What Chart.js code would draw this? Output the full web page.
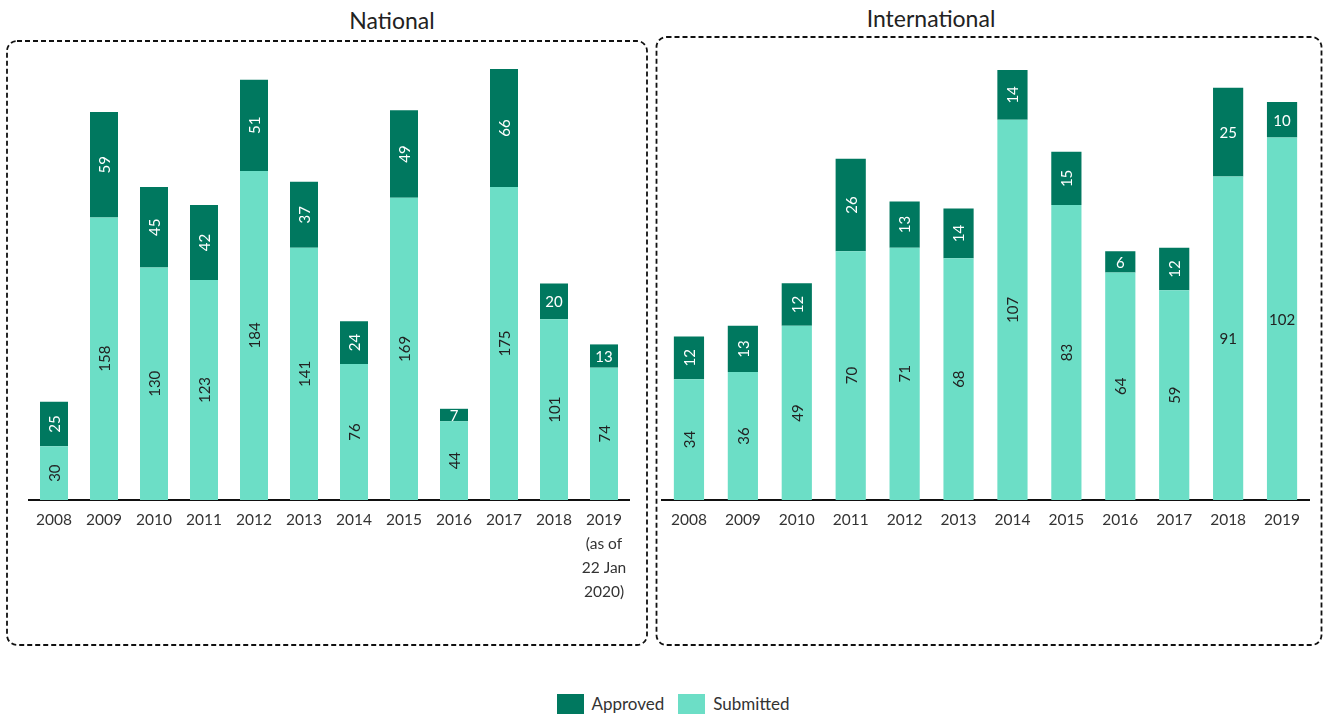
<!DOCTYPE html>
<html lang="en">
<head>
  <meta charset="UTF-8">
  <title>National and International</title>
  <style type="text/css">
    body, html {
      margin: 0;
      padding: 0;
      background-color: #fff;
      font-family: Lato, "Noto Sans", sans-serif;
      color: #333;
      width: 1326px;
      height: 718px;
      overflow: hidden;
    }
    svg.boxes {
      position: absolute;
      left: 0;
      top: 0;
    }
    .title {
      position: absolute;
      font-size: 23px;
      color: #222;
      text-align: center;
      width: 300px;
    }
    .chart-wrap {
      position: absolute;
    }
    .legend {
      position: absolute;
      top: 693px;
      left: 0;
      width: 1346px;
      display: flex;
      justify-content: center;
      font-size: 17px;
      color: #333;
    }
    .legend span.sw {
      display: inline-block;
      width: 27px;
      height: 20px;
      margin-right: 8px;
    }
    .legend .item {
      margin: 0 7px;
      display: flex;
      align-items: center;
    }
  </style>
  <script src="https://cdn.jsdelivr.net/npm/chart.js"></script>
</head>
<body>

  <svg class="boxes" width="1326" height="718">
    <rect x="7" y="41" width="640" height="604" rx="10" ry="10"
      fill="none" stroke="#111" stroke-width="1.8" stroke-dasharray="5 3"></rect>
    <rect x="656.5" y="37" width="665" height="608" rx="10" ry="10"
      fill="none" stroke="#111" stroke-width="1.8" stroke-dasharray="5 3"></rect>
  </svg>

  <div class="title" style="left:242px; top:6px;">National</div>
  <div class="title" style="left:781px; top:4px;">International</div>

  <div class="chart-wrap" style="left:0; top:0; width:660px; height:660px;">
    <canvas id="national"></canvas>
  </div>
  <div class="chart-wrap" style="left:650px; top:0; width:676px; height:660px;">
    <canvas id="international"></canvas>
  </div>

  <div class="legend">
    <div class="item"><span class="sw" id="sw-approved"></span>Approved</div>
    <div class="item"><span class="sw" id="sw-submitted"></span>Submitted</div>
  </div>

  <script>
    // categories
    const years = ['2008', '2009', '2010', '2011', '2012', '2013', '2014', '2015', '2016', '2017', '2018', '2019'];
    const nationalYears = years.slice(0, 11).concat([['2019', '(as of', '22 Jan', '2020)']]);

    // National values
    const nationalSubmitted = [30, 158, 130, 123, 184, 141, 76, 169, 44, 175, 101, 74];
    const nationalApproved = [25, 59, 45, 42, 51, 37, 24, 49, 7, 66, 20, 13];

    // International values
    const intlSubmitted = [34, 36, 49, 70, 71, 68, 107, 83, 64, 59, 91, 102];
    const intlApproved = [12, 13, 12, 26, 13, 14, 14, 15, 6, 12, 25, 10];

    // which labels are written flat instead of rotated
    const nationalSubmittedFlat = [];
    const nationalApprovedFlat = ['2016', '2018', '2019'];
    const intlSubmittedFlat = ['2018', '2019'];
    const intlApprovedFlat = ['2016', '2018', '2019'];

    const darkGreen = '#00785f';
    const lightGreen = '#6cdec6';
    const fontFamily = 'Lato, "Noto Sans", sans-serif';

    document.getElementById('sw-approved').style.backgroundColor = darkGreen;
    document.getElementById('sw-submitted').style.backgroundColor = lightGreen;

    // draws the value in the middle of each stacked segment
    const segmentLabels = {
      id: 'segmentLabels',
      afterDatasetsDraw(chart) {
        const ctx = chart.ctx;
        chart.data.datasets.forEach((ds, i) => {
          const meta = chart.getDatasetMeta(i);
          meta.data.forEach((bar, j) => {
            const p = bar.getProps(['x', 'y', 'base'], true);
            const cy = (p.y + p.base) / 2;
            ctx.save();
            ctx.translate(p.x, cy);
            if (ds.flat.indexOf(years[j]) === -1) {
              ctx.rotate(-Math.PI / 2);
            }
            ctx.fillStyle = ds.labelColor;
            ctx.font = '15px ' + fontFamily;
            ctx.textAlign = 'center';
            ctx.textBaseline = 'middle';
            ctx.fillText(String(ds.data[j]), 0, 1);
            ctx.restore();
          });
        });
      }
    };

    function makeChart(id, labels, submitted, approved, subFlat, appFlat, pad) {
      const totals = submitted.map((v, i) => v + approved[i]);
      return new Chart(document.getElementById(id), {
        type: 'bar',
        data: {
          labels: labels,
          datasets: [{
            label: 'Submitted',
            data: submitted,
            backgroundColor: lightGreen,
            flat: subFlat,
            labelColor: '#222',
            barPercentage: 0.56,
            categoryPercentage: 1
          }, {
            label: 'Approved',
            data: approved,
            backgroundColor: darkGreen,
            flat: appFlat,
            labelColor: '#fff',
            barPercentage: 0.56,
            categoryPercentage: 1
          }]
        },
        options: {
          responsive: true,
          maintainAspectRatio: false,
          animation: false,
          layout: { padding: pad },
          plugins: {
            legend: { display: false },
            tooltip: { enabled: false }
          },
          scales: {
            x: {
              stacked: true,
              grid: { display: false, drawTicks: false },
              border: { display: true, color: '#111', width: 2 },
              ticks: {
                color: '#333',
                padding: 8,
                maxRotation: 0,
                autoSkip: false,
                font: { family: fontFamily, size: 15.5, lineHeight: 1.55 }
              },
              afterFit(scale) { scale.height = 160; }
            },
            y: {
              stacked: true,
              display: false,
              min: 0,
              max: Math.max(...totals)
            }
          }
        },
        plugins: [segmentLabels]
      });
    }

    makeChart('national', nationalYears, nationalSubmitted, nationalApproved,
      nationalSubmittedFlat, nationalApprovedFlat, { left: 29, right: 31, top: 69, bottom: 0 });
    makeChart('international', years, intlSubmitted, intlApproved,
      intlSubmittedFlat, intlApprovedFlat, { left: 12, right: 17, top: 70, bottom: 0 });
  </script>
</body>
</html>
